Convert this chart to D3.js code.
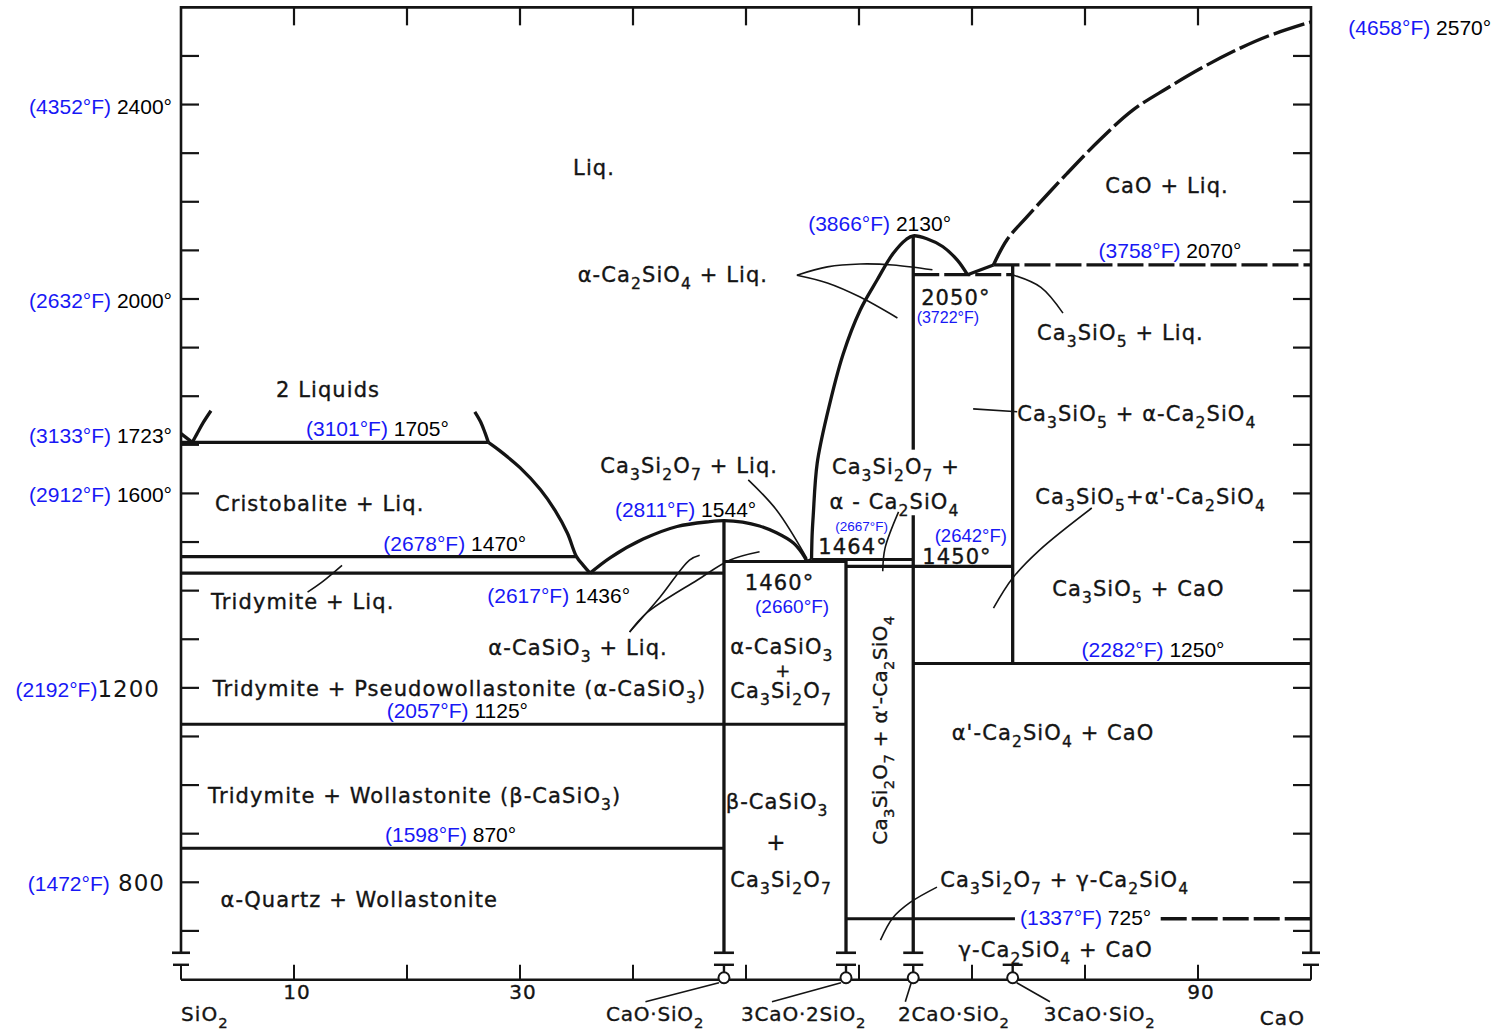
<!DOCTYPE html>
<html><head><meta charset="utf-8">
<script src="https://cdn.jsdelivr.net/npm/d3@7"></script>
<style>body{margin:0;background:#fff}svg{display:block}</style>
</head><body>
<svg id="c" width="1498" height="1035"></svg>
<script>
// ===== DATA: composition in wt% CaO, temperature in °C =====
const tempTicks = [700,800,900,1000,1100,1200,1300,1400,1500,1600,1700,1800,1900,2000,2100,2200,2300,2400,2500];
const compTicks = [0,10,20,30,40,50,60,70,80,90,100];
const compTickLabels = ["10","30","90"];
const compTickLabelValues = [10,30,90];
const tTop = 2600, tBottom = 655;

const compounds = ["CaO·SiO_2","3CaO·2SiO_2","2CaO·SiO_2","3CaO·SiO_2"];
const compoundPct = [48.05, 58.85, 64.8, 73.6];
// vertical segments of each compound line [from °C, to °C]
const compoundSegments = [[[1544,655]], [[1464,655]], [[2130,1690],[1555,655]], [[2070,1250]]];
const compoundLabelPct = [41.95, 55.1, 68.4, 81.3];
const compoundLeaderPct = [41.1, 52.3, 64.1, 76.9];

// liquidus / boundary curves [wt% CaO, °C]
const silicaLiquidus = [[0,1723],[1.0,1705]];
const leftDome = [[1.0,1705],[1.4,1722],[1.95,1745],[2.65,1770]];
const rightDome = [[26.0,1768],[26.5,1748],[26.9,1725],[27.2,1705]];
const cristobaliteLiquidus = [[27.2,1705],[28.2,1688],[30.0,1653],[31.8,1608],[33.1,1565],[34.2,1518],[35.0,1470],[35.6,1452],[36.2,1436]];
const wollastoniteLiquidus = [[36.2,1436],[38.0,1468],[40.9,1506],[43.9,1532],[46.8,1542],[48.05,1544],[49.7,1541],[51.2,1533],[52.7,1519],[54.2,1498],[55.0,1476],[55.4,1460]];
const rankiniteLiquidus = [[55.4,1460],[55.8,1464]];
const dicalciumLiquidus = [[55.8,1464],[55.85,1514],[55.95,1555],[56.3,1662],[57.2,1764],[58.6,1887],[60.1,1977],[61.6,2039],[63.0,2093],[64.2,2123],[64.8,2130],[66.0,2124],[67.4,2108],[68.7,2080],[69.6,2050]];
const tricalciumLiquidus = [[69.6,2050],[71.9,2070]];
const limeLiquidus = [[71.9,2070],[73.1,2122],[74.9,2170],[78.4,2258],[81.3,2327],[84.2,2388],[87.3,2434],[90.3,2475],[93.1,2509],[96.1,2540],[100,2570]];

// isotherms [°C, from wt%, to wt%]
const solidIsotherms = [[1705,0,27.2],[1470,0,35.0],[1436,0,48.05],[1460,48.05,58.85],[1464,55.8,64.8],[1450,58.85,73.6],[1250,64.8,100],[1125,0,58.85],[870,0,48.05],[725,58.85,73.8]];
const dashedIsotherms = [[725,86.7,100],[2050,64.8,73.6],[2070,71.9,100]];

// label leader lines
const leaders = [
  [[54.5,2049],[57.2,2066],[60.1,2072],[63.0,2070],[66.5,2060]],
  [[54.5,2049],[57.2,2033],[60.1,2004],[63.4,1961]],
  [[50.2,1628],[52.7,1566],[55.4,1466]],
  [[39.7,1315],[42.4,1387],[45.0,1463],[45.9,1473]],
  [[39.7,1315],[41.2,1354],[45.7,1422],[48.6,1463],[51.2,1480]],
  [[11.2,1397],[12.5,1418],[14.25,1452]],
  [[70.1,1774],[74.0,1768]],
  [[80.6,1570],[76.0,1484],[73.6,1426],[71.9,1364]],
  [[66.9,790],[64.5,758],[63.0,727],[61.9,681]],
  [[73.7,2049],[76.1,2024],[78.05,1971]],
  [[63.5,1562],[62.3,1487],[62.1,1440]]
];

// phase field labels [text, wt%, °C]  ("_d" = subscript)
const phaseLabels = [
  ["Liq.",34.7,2255],["CaO + Liq.",81.8,2218],["2 Liquids",8.4,1798],
  ["Cristobalite + Liq.",3.0,1564],["Tridymite + Liq.",2.65,1362],
  ["α-Ca_2SiO_4 + Liq.",35.1,2035],["Ca_3SiO_5 + Liq.",75.75,1916],
  ["Ca_3SiO_5 + α-Ca_2SiO_4",74.0,1749],["Ca_3Si_2O_7 + Liq.",37.1,1642],
  ["Ca_3Si_2O_7 +",57.6,1640],["α - Ca_2SiO_4",57.4,1568],
  ["Ca_3SiO_5+α'-Ca_2SiO_4",75.6,1578],["Ca_3SiO_5 + CaO",77.1,1389],
  ["α-CaSiO_3 + Liq.",27.2,1268],["α-CaSiO_3",48.6,1270],["Ca_3Si_2O_7",48.6,1179],
  ["Tridymite + Pseudowollastonite (α-CaSiO_3)",2.8,1183],
  ["α'-Ca_2SiO_4 + CaO",68.2,1093],
  ["Tridymite + Wollastonite (β-CaSiO_3)",2.4,963],
  ["β-CaSiO_3",48.2,951],["Ca_3Si_2O_7",48.6,790],
  ["α-Quartz + Wollastonite",3.5,749],
  ["Ca_3Si_2O_7 + γ-Ca_2SiO_4",67.2,790],["γ-Ca_2SiO_4 + CaO",68.8,646],
  ["2050°",65.5,1988],["1464°",56.4,1476],["1460°",49.9,1401],["1450°",65.6,1455]
];
const plusLabels = [[53.3,1222,18],[52.7,867,23]];
const rotatedLabel = ["Ca_3Si_2O_7 + α'-Ca_2SiO_4",62.5,1113];

// temperature annotations [°F, °C, wt%, °C position]
const tempNotes = [
  ["(3101°F)","1705°",11.06,1719],["(2811°F)","1544°",38.4,1552],
  ["(2678°F)","1470°",17.9,1481],["(2617°F)","1436°",27.1,1375],
  ["(2057°F)","1125°",18.2,1138],["(1598°F)","870°",18.05,883],
  ["(3866°F)","2130°",55.5,2140],["(3758°F)","2070°",81.2,2084],
  ["(2282°F)","1250°",79.7,1263],["(1337°F)","725°",74.25,712],
  ["(4658°F)","2570°",103.3,2543]
];
const smallNotes = [["(3722°F)",65.1,1951,16],["(2667°F)",57.9,1523,13.5],["(2642°F)",66.7,1501,18.5],["(2660°F)",50.8,1355,19]];
// axis annotations [°C, °F text, °C text]
const axisNotes = [[2400,"(4352°F)"," 2400°"],[2000,"(2632°F)"," 2000°"],[1723,"(3133°F)"," 1723°"],[1600,"(2912°F)"," 1600°"]];
const axisNotesScan = [[1200,"(2192°F)","1200",21],[800,"(1472°F)"," 800",16]];

// ===== DRAWING =====
const svg = d3.select("#c");
svg.append("rect").attr("width",1498).attr("height",1035).attr("fill","#fff");
const x = d3.scaleLinear().domain([0,100]).range([181,1311]);
const y = d3.scaleLinear().domain([700,2500]).range([930.9,55.95]);
const yBot = y(tBottom), yTopPx = y(tTop);
const axisY = yBot + 27;
const INK = "#141414", BLUE = "#1818f5";
const SCAN = "'DejaVu Sans', 'Noto Sans', sans-serif";
const ARIAL = "'Liberation Sans', Arial, sans-serif";

const line = d3.line().x(d=>x(d[0])).y(d=>y(d[1])).curve(d3.curveCatmullRom.alpha(0.5));
const g = svg.append("g").attr("fill","none").attr("stroke",INK);

// frame
g.append("path").attr("stroke-width",2.6).attr("d", `M${x(0)},${yBot}V${yTopPx}H${x(100)}V${yBot}`);
[0,100].forEach(p=>g.append("line").attr("stroke-width",2.6).attr("x1",x(p)-9).attr("x2",x(p)+9).attr("y1",yBot).attr("y2",yBot));
// temperature ticks
tempTicks.forEach(t=>{
  g.append("line").attr("stroke-width",2.2).attr("x1",x(0)).attr("x2",x(0)+18).attr("y1",y(t)).attr("y2",y(t));
  g.append("line").attr("stroke-width",2.2).attr("x1",x(100)-18).attr("x2",x(100)).attr("y1",y(t)).attr("y2",y(t));
});
compTicks.filter(p=>p>0&&p<100).forEach(p=>{
  g.append("line").attr("stroke-width",2.2).attr("x1",x(p)).attr("x2",x(p)).attr("y1",yTopPx).attr("y2",yTopPx+18);
});

// curves
[silicaLiquidus,leftDome,rightDome,cristobaliteLiquidus,wollastoniteLiquidus,rankiniteLiquidus,dicalciumLiquidus,tricalciumLiquidus]
  .forEach(c=>g.append("path").attr("stroke-width",3.3).attr("d",line(c)));
g.append("path").attr("stroke-width",3.4).attr("stroke-dasharray","32,5").attr("d",line(limeLiquidus));

// isotherms
solidIsotherms.forEach(([t,a,b])=>g.append("line").attr("stroke-width",3.1).attr("x1",x(a)).attr("x2",x(b)).attr("y1",y(t)).attr("y2",y(t)));
dashedIsotherms.forEach(([t,a,b])=>g.append("line").attr("stroke-width",3.3).attr("stroke-dasharray","26,5").attr("x1",x(a)).attr("x2",x(b)).attr("y1",y(t)).attr("y2",y(t)));

// compound verticals
compoundPct.forEach((p,i)=>{
  compoundSegments[i].forEach(([t0,t1])=>{
    g.append("line").attr("stroke-width",3.3).attr("x1",x(p)).attr("x2",x(p)).attr("y1",y(t0)).attr("y2",y(t1));
    if (t1 === tBottom)
      g.append("line").attr("stroke-width",2.6).attr("x1",x(p)-10).attr("x2",x(p)+10).attr("y1",yBot).attr("y2",yBot);
  });
});

// leaders
leaders.forEach(l=>g.append("path").attr("stroke-width",1.6).attr("d",line(l)));

// bottom composition axis
g.append("line").attr("stroke-width",2.4).attr("x1",x(0)).attr("x2",x(100)).attr("y1",axisY).attr("y2",axisY);
compTicks.forEach(p=>{
  g.append("line").attr("stroke-width",2).attr("x1",x(p)).attr("x2",x(p)).attr("y1",axisY-15).attr("y2",axisY);
  if (p===0||p===100) g.append("line").attr("stroke-width",2.4).attr("x1",x(p)-8).attr("x2",x(p)+8).attr("y1",axisY-15).attr("y2",axisY-15);
});
compoundPct.forEach((p,i)=>{
  g.append("line").attr("stroke-width",2.4).attr("x1",x(p)-10).attr("x2",x(p)+10).attr("y1",axisY-15).attr("y2",axisY-15);
  g.append("line").attr("stroke-width",2.4).attr("x1",x(p)).attr("x2",x(p)).attr("y1",axisY-15).attr("y2",axisY-7);
  g.append("line").attr("stroke-width",1.6).attr("x1",x(p)+(i<2?-5:(i===2?-2:4))).attr("y1",axisY+3)
    .attr("x2",x(compoundLeaderPct[i])).attr("y2",axisY+22);
  g.append("circle").attr("cx",x(p)).attr("cy",axisY-2).attr("r",5.5).attr("fill","#fff").attr("stroke-width",2);
});

// ---- text helpers ----
function rich(sel, str, fs){
  const parts = str.split(/(_\d)/);
  let shifted=false;
  parts.forEach(s=>{
    if(!s) return;
    if(s[0]==='_'){
      sel.append("tspan").attr("font-size",fs*0.74).attr("dy",shifted?0:fs*0.34).text(s[1]);
      shifted=true;
    } else {
      const t=sel.append("tspan").text(s);
      if(shifted){t.attr("dy",-fs*0.34);shifted=false;}
    }
  });
  return sel;
}
const FS = 21;
const tg = svg.append("g").attr("font-family",SCAN).attr("fill",INK).attr("stroke",INK).attr("stroke-width",0.35)
  .attr("font-size",FS).attr("letter-spacing",1.1);
phaseLabels.forEach(([s,p,t])=>rich(tg.append("text").attr("x",x(p)).attr("y",y(t)),s,FS));
plusLabels.forEach(([p,t,fs])=>tg.append("text").attr("x",x(p)).attr("y",y(t)).attr("text-anchor","middle").attr("font-size",fs).text("+"));
rich(tg.append("text").attr("text-anchor","middle").attr("letter-spacing",0.3).attr("font-size",20)
  .attr("transform",`translate(${x(rotatedLabel[1])},${y(rotatedLabel[2])}) rotate(-90)`),rotatedLabel[0],20);

// axis numbers & names
compTickLabelValues.forEach((v,i)=>tg.append("text").attr("x",x(v)+3).attr("y",axisY+19).attr("font-size",20).attr("text-anchor","middle").text(compTickLabels[i]));
rich(tg.append("text").attr("x",x(0)).attr("y",axisY+41).attr("font-size",20),"SiO_2",20);
tg.append("text").attr("x",x(100)-6).attr("y",axisY+45).attr("font-size",20).attr("text-anchor","end").text("CaO");
compounds.forEach((s,i)=>rich(tg.append("text").attr("x",x(compoundLabelPct[i])).attr("y",axisY+41).attr("font-size",20)
  .attr("text-anchor","middle").attr("letter-spacing",0.8),s,20));

// temperature annotations
const ag = svg.append("g").attr("font-family",ARIAL).attr("font-size",21);
function note(sel,f,c){ sel.append("tspan").attr("fill",BLUE).text(f); sel.append("tspan").attr("fill","#000").text(" "+c); }
tempNotes.forEach(([f,c,p,t])=>note(ag.append("text").attr("x",x(p)).attr("y",y(t)),f,c));
smallNotes.forEach(([f,p,t,fs])=>ag.append("text").attr("x",x(p)).attr("y",y(t)).attr("font-size",fs).attr("fill",BLUE).text(f));
axisNotes.forEach(([t,f,c])=>{
  const s=ag.append("text").attr("x",x(0)-9).attr("y",y(t)+9).attr("text-anchor","end");
  s.append("tspan").attr("fill",BLUE).text(f); s.append("tspan").attr("fill","#000").text(c);
});
axisNotesScan.forEach(([t,f,c,off])=>{
  const s=ag.append("text").attr("x",x(0)-off).attr("y",y(t)+9).attr("text-anchor","end");
  s.append("tspan").attr("fill",BLUE).text(f);
  s.append("tspan").attr("fill",INK).attr("font-family",SCAN).attr("font-size",23).attr("letter-spacing",1).text(c);
});
</script>
</body></html>
